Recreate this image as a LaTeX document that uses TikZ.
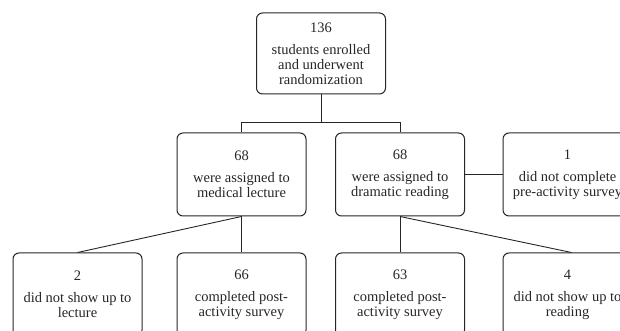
\documentclass[tikz,border=0pt]{standalone}
\usepackage{fontspec}
\setmainfont{Liberation Serif}
\usepackage{tikz}
\usetikzlibrary{positioning,calc}
\definecolor{Ink}{HTML}{262626}

\begin{document}
\begin{tikzpicture}[x=1pt,y=1pt,
    font=\fontsize{14.5}{15}\selectfont,
    blk/.style={draw=Ink,rounded corners=6pt,minimum width=129pt,minimum height=83pt,
      align=center,text=Ink,line width=1pt,inner sep=2pt},
    lnk/.style={draw=Ink,line width=0.9pt}]
  \useasboundingbox (0,0) rectangle (620,331);
  \clip (0,0) rectangle (620,331);
  \node[blk, minimum height=81pt] (Enr) at (321,277.5) {136\\[7pt]students enrolled\\and underwent\\randomization};
  \node[blk] (Lec) at (241.5,156.5) {68\\[7pt]were assigned to\\medical lecture};
  \node[blk] (Rdg) at (400,156.5) {68\\[7pt]were assigned to\\dramatic reading};
  \node[blk] (Exc) at (567.5,156.5) {1\\[7pt]did not complete\\pre-activity survey};
  \node[blk] (NsL) at (77.5,36.5) {2\\[7pt]did not show up to\\lecture};
  \node[blk] (CpL) at (241.5,36.5) {66\\[7pt]completed post-\\activity survey};
  \node[blk] (CpR) at (400,36.5) {63\\[7pt]completed post-\\activity survey};
  \node[blk] (NsR) at (567.5,36.5) {4\\[7pt]did not show up to\\reading};
  \draw[lnk] (Enr.south) -- ++(0,-28) coordinate (bus);
  \draw[lnk] (Lec.north) |- (bus) -| (Rdg.north);
  \draw[lnk] (Rdg.east) -- (Exc.west);
  \draw[lnk] (Lec.south) -- (NsL.north);
  \draw[lnk] (Lec.south) -- (CpL.north);
  \draw[lnk] (Rdg.south) -- (CpR.north);
  \draw[lnk] (Rdg.south) -- ([xshift=4pt]NsR.north);
\end{tikzpicture}
\end{document}
